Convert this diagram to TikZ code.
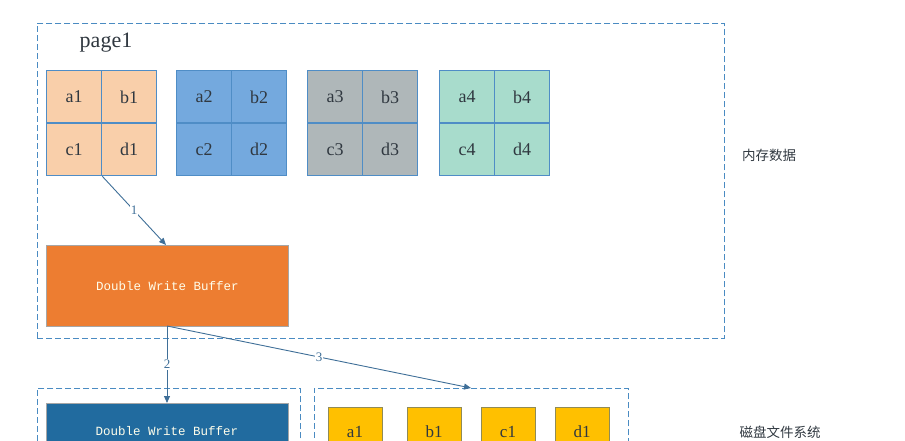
\documentclass[tikz,border=0pt]{standalone}
\usepackage{fontspec}
\setmainfont{Liberation Serif}
\newfontfamily\monof{Liberation Mono}
\newfontfamily\cjk{Noto Sans CJK SC}
\usetikzlibrary{arrows.meta}
\definecolor{dashc}{HTML}{4A8BC2}
\definecolor{arrc}{HTML}{3F6F98}
\definecolor{cellb}{HTML}{4F8DC6}
\definecolor{peach}{HTML}{F9CFAA}
\definecolor{blu}{HTML}{74A9DE}
\definecolor{gry}{HTML}{AFB7B9}
\definecolor{teal}{HTML}{A8DCCC}
\definecolor{orng}{HTML}{ED7D31}
\definecolor{dblue}{HTML}{216B9F}
\definecolor{yel}{HTML}{FFC000}
\definecolor{txtc}{HTML}{303840}
\tikzset{
  x=1pt,y=-1pt,
  region/.style={draw=dashc, dash pattern=on 6pt off 3pt, line width=0.8pt},
  cell/.style={draw=cellb, line width=1.3pt, minimum width=55pt, minimum height=52.5pt, inner sep=0pt, font=\fontsize{18}{18}\selectfont, text=txtc},
  buf/.style={draw=gray!70, line width=0.6pt, minimum width=242pt, minimum height=81pt, inner sep=0pt, font=\monof\fontsize{12.5}{12.5}\selectfont, text=white!92!yellow},
  ybox/.style={draw=gray!60!olive, line width=0.6pt, fill=yel, minimum width=54pt, minimum height=54pt, inner sep=0pt},
  ytext/.style={font=\fontsize{17}{17}\selectfont, text=txtc},
  conn/.style={draw=arrc, line width=0.9pt, -{Triangle[length=7pt,width=6pt]}},
  lbl/.style={fill=white, inner sep=1pt, font=\fontsize{13}{13}\selectfont, text=arrc},
  side/.style={font=\cjk\fontsize{13.5}{13.5}\selectfont, text=txtc}
}
\begin{document}
\begin{tikzpicture}
\useasboundingbox (0,0) rectangle (905,441);
\clip (0,0) rectangle (905,441);
% outer memory region
\node[region, draw, minimum width=687pt, minimum height=315pt, anchor=north west, inner sep=0pt] (mem) at (37,23) {};
\node[font=\fontsize{22}{22}\selectfont, text=txtc] (page) at (106,43) {page1};
% grids
\foreach \g/\xx/\col in {1/46/peach, 2/176/blu, 3/307/gry, 4/439/teal}{
  \node[cell, fill=\col, anchor=north west] (a\g) at (\xx,70) {a\g};
  \node[cell, fill=\col, anchor=north west] (b\g) at (\xx+55,70) {b\g};
  \node[cell, fill=\col, anchor=north west] (c\g) at (\xx,122.5) {c\g};
  \node[cell, fill=\col, anchor=north west] (d\g) at (\xx+55,122.5) {d\g};
}
\node[side] (memlbl) at (769,155) {内存数据};
% orange buffer
\node[buf, fill=orng, anchor=north west] (dwb) at (46,245) {Double Write Buffer};
% bottom regions
\node[region, draw, minimum width=263pt, minimum height=120pt, anchor=north west, inner sep=0pt] (disk1) at (37,388) {};
\node[region, draw, minimum width=314pt, minimum height=120pt, anchor=north west, inner sep=0pt] (disk2) at (314,388) {};
\node[buf, fill=dblue, anchor=north west] (dwb2) at (46,403) {};
\node[font=\monof\fontsize{12.5}{12.5}\selectfont, text=white!92!yellow] (dwb2t) at (167,431) {Double Write Buffer};
% yellow pages
\foreach \n/\xx in {a/328, b/407, c/481, d/555}{
  \node[ybox, anchor=north west] (y\n) at (\xx,407) {};
  \node[ytext, anchor=base] (y\n t) at (\xx+27,437) {\n1};
}
\node[side] (disklbl) at (780,432) {磁盘文件系统};
% connectors
\coordinate (s1) at (c1.south east);
\coordinate (e1) at (166,245);
\coordinate (s2) at (167,326);
\coordinate (e3) at (471,388);
\draw[conn] (s1) -- node[lbl] {1} (e1);
\draw[conn] (s2) -- node[lbl] {2} (dwb2.north -| s2);
\draw[conn] (s2) -- node[lbl] {3} (e3);
\end{tikzpicture}
\end{document}
